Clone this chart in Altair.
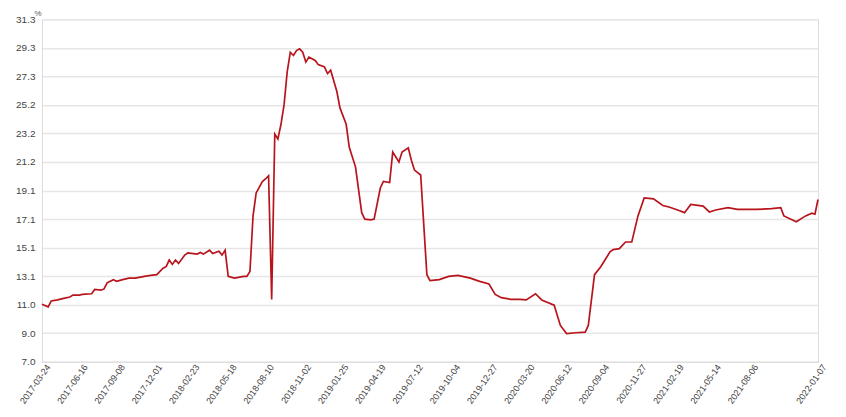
import altair as alt
import pandas as pd
import numpy as np

start_date = "2017-03-24"
week_offsets = [0, 2, 3, 5, 7, 9, 10, 12, 13, 16, 17, 19, 20, 21, 23, 24, 26, 28, 30, 33,
                35, 37, 39, 40, 41, 42, 43, 44, 46, 47, 50, 51, 52, 54, 55, 57, 58, 59, 60, 62,
                65, 66, 67, 68, 69, 71, 72, 73, 74, 75, 76, 77, 78, 79, 80, 81, 82, 83, 84, 85,
                86, 88, 89, 91, 92, 93, 95, 96, 98, 99, 101, 103, 104, 106, 107, 109, 110, 112, 113, 115,
                116, 118, 119, 120, 122, 124, 125, 128, 131, 134, 138, 141, 144, 146, 148, 151, 154, 156, 159, 161,
                165, 167, 169, 172, 175, 176, 178, 180, 183, 184, 186, 188, 190, 192, 194, 197, 200, 202, 205, 207,
                209, 213, 215, 217, 221, 224, 230, 235, 238, 239, 243, 246, 248, 249, 250]
rates = [11.09, 10.90, 11.32, 11.39, 11.50, 11.60, 11.73, 11.73, 11.78, 11.83, 12.13, 12.08, 12.17, 12.60, 12.83, 12.71, 12.83, 12.94, 12.94, 13.06,
         13.13, 13.18, 13.64, 13.75, 14.22, 13.91, 14.22, 13.98, 14.57, 14.73, 14.64, 14.75, 14.64, 14.92, 14.68, 14.85, 14.57, 14.92, 13.06, 12.94,
         13.06, 13.06, 13.41, 17.35, 18.98, 19.79, 19.97, 20.20, 11.43, 23.16, 22.81, 23.85, 25.24, 27.57, 28.96, 28.73, 29.08, 29.20, 28.96, 28.26,
         28.62, 28.38, 28.08, 27.92, 27.45, 27.68, 26.17, 25.01, 23.85, 22.22, 20.83, 17.58, 17.12, 17.07, 17.12, 19.33, 19.79, 19.72, 21.88, 21.18,
         21.88, 22.18, 21.30, 20.60, 20.25, 13.18, 12.76, 12.83, 13.06, 13.13, 12.94, 12.71, 12.52, 11.78, 11.55, 11.43, 11.43, 11.39, 11.83, 11.39,
         11.02, 9.58, 9.00, 9.06, 9.11, 9.58, 13.18, 13.75, 14.80, 14.96, 15.03, 15.50, 15.50, 17.35, 18.63, 18.56, 18.09, 17.98, 17.75, 17.58,
         18.16, 18.04, 17.63, 17.77, 17.93, 17.81, 17.81, 17.86, 17.93, 17.35, 16.93, 17.35, 17.54, 17.47, 18.51]

x_tick_dates = ["2017-03-24", "2017-06-16", "2017-09-08", "2017-12-01", "2018-02-23", "2018-05-18",
                "2018-08-10", "2018-11-02", "2019-01-25", "2019-04-19", "2019-07-12", "2019-10-04",
                "2019-12-27", "2020-03-20", "2020-06-12", "2020-09-04", "2020-11-27", "2021-02-19",
                "2021-05-14", "2021-08-06", "2022-01-07"]
y_tick_values = [7.0, 9.025, 11.05, 13.075, 15.1, 17.125, 19.15, 21.175, 23.2, 25.225, 27.25, 29.275, 31.3]
y_tick_labels = ["7.0", "9.0", "11.0", "13.1", "15.1", "17.1", "19.1", "21.2", "23.2", "25.2", "27.3", "29.3", "31.3"]

dates = pd.Timestamp(start_date) + pd.to_timedelta(np.array(week_offsets) * 7, unit="D")
df = pd.DataFrame({"date": dates.strftime("%Y-%m-%d"), "rate": rates})

x_tick_ms = [int(pd.Timestamp(d, tz="UTC").timestamp() * 1000) for d in x_tick_dates]
domain_ms = [x_tick_ms[0], x_tick_ms[-1]]

label_array = "[" + ",".join("'" + s + "'" for s in y_tick_labels) + "]"
y_label_expr = label_array + "[round((datum.value - 7.0) / 2.025)]"

chart = alt.Chart(df).mark_line(color="#b8141c", strokeWidth=1.7, interpolate="linear").encode(
    x=alt.X("date:T",
            scale=alt.Scale(type="utc", domain=domain_ms, nice=False),
            axis=alt.Axis(values=x_tick_ms, labelExpr="utcFormat(datum.value, '%Y-%m-%d')",
                          labelAngle=-55, labelFontSize=9, labelColor="#444444",
                          labelFont="Liberation Sans", labelPadding=3, labelOffset=6,
                          grid=False, ticks=False, domainColor="#dddddd", title=None,
                          labelOverlap=False)),
    y=alt.Y("rate:Q",
            scale=alt.Scale(domain=[7.0, 31.3], nice=False, zero=False),
            axis=alt.Axis(values=y_tick_values, labelExpr=y_label_expr,
                          labelFontSize=10, labelColor="#444444", labelFont="Liberation Sans",
                          labelPadding=7, ticks=False, gridColor="#e6e6e6", gridWidth=1.5,
                          domainColor="#dddddd",
                          title="%", titleAngle=0, titleAlign="left", titleBaseline="top",
                          titleX=-8, titleY=-10, titleFontSize=8, titleFontWeight="normal",
                          titleColor="#555555"))
).properties(
    width=777, height=343,
    autosize=alt.AutoSizeParams(type="none"),
    padding={"left": 34, "top": 11, "right": 20, "bottom": 52}
).configure_view(stroke="#dddddd", strokeWidth=1).configure(background="white")

chart.save("out.html", embed_options={"renderer": "svg", "actions": False})
